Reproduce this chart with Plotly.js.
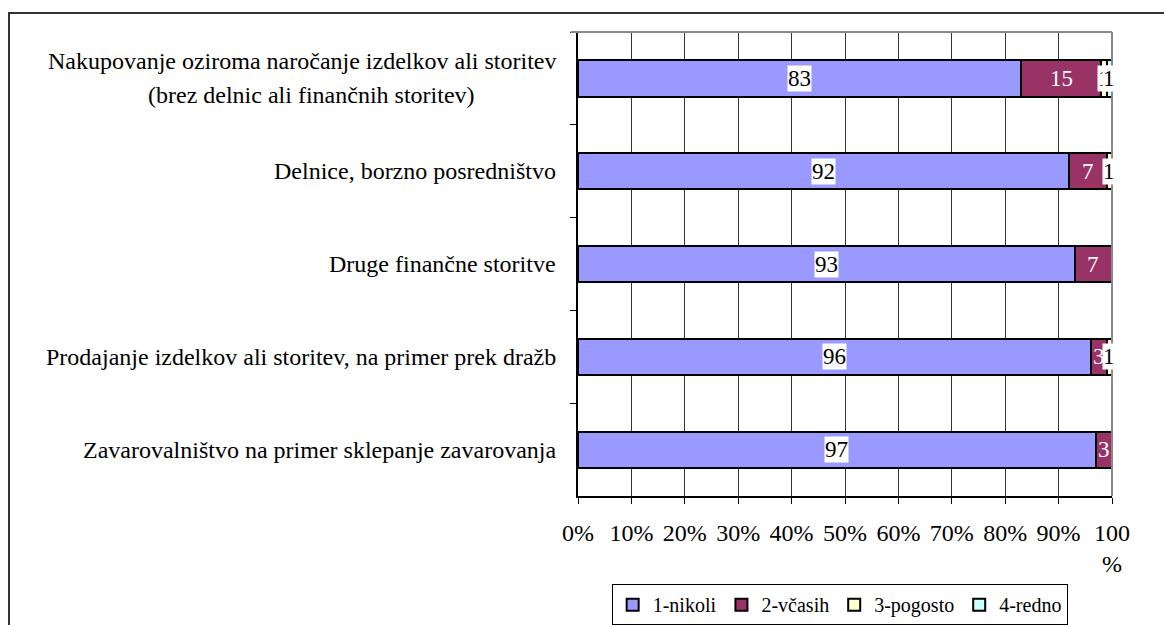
<!DOCTYPE html>
<html>
<head>
<meta charset="utf-8">
<script src="https://cdn.plot.ly/plotly-3.0.1.min.js"></script>
<style>
html,body{margin:0;padding:0;background:#fff;overflow:hidden;}
#frame{position:absolute;left:8px;top:12px;width:1200px;height:700px;border-left:2px solid #333;border-top:2px solid #333;}
#chart{position:absolute;left:0;top:0;width:1164px;height:625px;}
</style>
</head>
<body>
<div id="frame"></div>
<div id="chart"></div>
<script>
const categories = [
  "Nakupovanje oziroma naročanje izdelkov ali storitev",
  "Delnice, borzno posredništvo",
  "Druge finančne storitve",
  "Prodajanje izdelkov ali storitev, na primer prek dražb",
  "Zavarovalništvo na primer sklepanje zavarovanja"
];
const categorySubline = ["(brez delnic ali finančnih storitev)", "", "", "", ""];
const seriesNames = ["1-nikoli", "2-včasih", "3-pogosto", "4-redno"];
const nikoli  = [83, 92, 93, 96, 97];
const vcasih  = [15, 7, 7, 3, 3];
const pogosto = [1, 1, 0, 1, 0];
const redno   = [1, 0, 0, 0, 0];
const xTickVals = [0,10,20,30,40,50,60,70,80,90,100];
const xTickText = ["0%","10%","20%","30%","40%","50%","60%","70%","80%","90%","100<br>%"];

const colors = ["#9999FF", "#993366", "#FFFFCC", "#CCFFFF"];
const labelColors = ["#000000", "#FFFFFF", "#000000", "#000000"];
const labelBg = ["#FFFFFF", "rgba(0,0,0,0)", "#FFFFFF", "#FFFFFF"];
const allSeries = [nikoli, vcasih, pogosto, redno];
const FONT = "Times New Roman";
const FS = 24;

const traces = allSeries.map((vals, i) => ({
  type: "bar",
  orientation: "h",
  name: seriesNames[i],
  y: categories,
  x: vals,
  marker: {color: colors[i], line: {color: "#000", width: 2}},
  hoverinfo: "x+name"
}));

const annotations = [];
categories.forEach((c, j) => {
  let cum = 0;
  allSeries.forEach((vals, i) => {
    const v = vals[j];
    if (v > 0) {
      annotations.push({
        x: cum + v / 2, y: c, xref: "x", yref: "y",
        text: String(v), showarrow: false,
        font: {family: FONT, size: FS - 1, color: labelColors[i]},
        bgcolor: labelBg[i], borderpad: 0
      });
    }
    cum += v;
  });
  if (categorySubline[j]) {
    annotations.push({
      x: 0, y: c, xref: "paper", yref: "y", xanchor: "right", yanchor: "middle",
      xshift: -20, yshift: 17, text: c, showarrow: false,
      font: {family: FONT, size: FS, color: "#000"}
    });
    annotations.push({
      x: -0.5, y: c, xref: "paper", yref: "y", xanchor: "center", yanchor: "middle",
      yshift: -17, text: categorySubline[j], showarrow: false,
      font: {family: FONT, size: FS, color: "#000"}
    });
  } else {
    annotations.push({
      x: 0, y: c, xref: "paper", yref: "y", xanchor: "right", yanchor: "middle",
      xshift: -20, text: c, showarrow: false,
      font: {family: FONT, size: FS, color: "#000"}
    });
  }
});

const layout = {
  width: 1164, height: 625,
  margin: {l: 578, r: 52, t: 32, b: 129, autoexpand: false},
  paper_bgcolor: "rgba(0,0,0,0)",
  plot_bgcolor: "#fff",
  barmode: "stack",
  bargap: 0.61,
  showlegend: true,
  font: {family: FONT, size: FS, color: "#000"},
  xaxis: {
    range: [0, 100], tickvals: xTickVals, ticktext: xTickText,
    showgrid: true, gridcolor: "#333", gridwidth: 1,
    showline: true, linecolor: "#000", linewidth: 2,
    ticks: "outside", ticklen: 6, tickcolor: "#000", tickwidth: 1,
    ticklabelstandoff: 8,
    zeroline: false, fixedrange: true,
    tickfont: {family: FONT, size: FS, color: "#000"}
  },
  yaxis: {
    type: "category", autorange: "reversed",
    showticklabels: false, tickson: "boundaries",
    ticks: "outside", ticklen: 6, tickcolor: "#000", tickwidth: 1,
    showgrid: false, showline: true, linecolor: "#000", linewidth: 2,
    zeroline: false, fixedrange: true
  },
  shapes: [
    {type: "line", xref: "paper", yref: "paper", x0: -0.014, x1: 1, y0: 1, y1: 1, line: {color: "#888", width: 2}},
    {type: "line", xref: "paper", yref: "paper", x0: 1, x1: 1, y0: 0, y1: 1, line: {color: "#888", width: 2}}
  ],
  legend: {
    orientation: "h", x: 0.49, xanchor: "center", y: -0.19, yanchor: "top",
    bordercolor: "#000", borderwidth: 1, bgcolor: "#fff",
    font: {family: FONT, size: 20, color: "#000"},
    traceorder: "normal", itemclick: false, itemwidth: 30, tracegroupgap: 0
  },
  annotations: annotations
};

Plotly.newPlot("chart", traces, layout, {displayModeBar: false, staticPlot: true});
</script>
</body>
</html>
